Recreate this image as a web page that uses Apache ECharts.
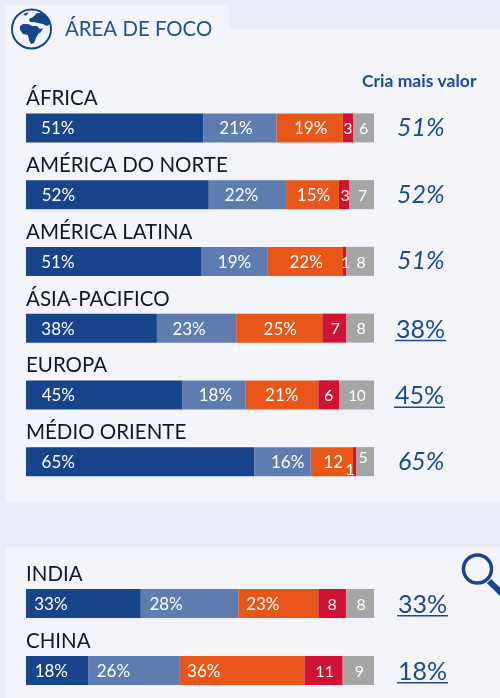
<!DOCTYPE html>
<html><head><meta charset="utf-8">
<style>html,body{margin:0;padding:0;background:#e9edf5}#c{width:500px;height:698px}</style>
<script src="https://cdn.jsdelivr.net/npm/echarts@6/dist/echarts.min.js"></script>
</head><body><div id="c"></div>
<script>
const regions = ['ÁFRICA','AMÉRICA DO NORTE','AMÉRICA LATINA','ÁSIA-PACIFICO','EUROPA','MÉDIO ORIENTE'];
const regionValues = [
  [51,21,19,3,6],
  [52,22,15,3,7],
  [51,19,22,1,8],
  [38,23,25,7,8],
  [45,18,21,6,10],
  [65,16,12,1,5]
];
const regionTop = [51,52,51,38,45,65];
const regionTopStyle = ['italic','italic','italic','link','link','italic'];
const countries = ['INDIA','CHINA'];
const countryValues = [
  [33,28,23,8,8],
  [18,26,36,11,9]
];
const countryTop = [33,18];
const countryTopStyle = ['link','link'];
const colors = ['#18448c','#5e7cb0','#e8561a','#cf1433','#a5a5a5'];

// label placement tweaks relative to the centre of each segment
const regionNudge = [
  [[-57,1],[-4,1],[1,1],[0,1],[0,1]],
  [[-59,1],[-6,1],[1,1],[1,1],[1,1]],
  [[-56,1],[0,1],[1,1],[1,1],[1,1]],
  [[-33.5,1],[-7.5,1],[1,1],[1,1],[1,1]],
  [[-46,1],[1.5,1],[0,1],[0,1],[0.5,1]],
  [[-82,1],[5,1],[1.5,1],[-4.5,8],[-2,-4]]
];
const countryNudge = [
  [[-32.5,1],[-23.5,1],[-15.5,1],[0,1],[1,1]],
  [[-6,1],[-20.5,1],[-38,1],[1,1],[1,1]]
];
const topOffset = {r:[23,23,23,22,21,24], c:[24,24]};
const NAVY = '#1d4a90';
const LABEL_FONT = 'Lato';

const measure = document.createElement('canvas').getContext('2d');

function buildSeries(rows, nudge, gridIndex, tops, topStyles, offs){
  const out = [];
  colors.forEach((color, s) => {
    out.push({
      type:'bar', stack:'g'+gridIndex, xAxisIndex:gridIndex, yAxisIndex:gridIndex,
      barWidth:29, silent:true, itemStyle:{color},
      data: rows.map((r, i) => {
        const sum = r.reduce((a,b)=>a+b,0);
        const raw = r[s];
        const text = (s<3 && !(raw===12 && s===2)) ? raw+'%' : ''+raw;
        return {
          value: raw/sum*100,
          label:{show:true, position:'inside', formatter:text, offset:nudge[i][s],
                 color:'#fff', fontFamily:LABEL_FONT, fontSize:s<3?17:(raw===10?15:16)}
        };
      })
    });
  });
  out.push({
    type:'custom', xAxisIndex:gridIndex, yAxisIndex:gridIndex, silent:true, clip:false, z:5,
    data: tops.map((v,i)=>[100,i,v]),
    renderItem:(params, api) => {
      const p = api.coord([api.value(0), api.value(1)]);
      const i = params.dataIndex;
      const text = api.value(2)+'%';
      const link = topStyles[i]==='link';
      const font = (link?'400 ':'italic 400 ')+'25px Lato';
      const x = p[0]+offs[i];
      const kids = [{type:'text', style:{x, y:p[1]+(link?1.5:0), text, font, fill:NAVY, textAlign:'left', textVerticalAlign:'middle'}}];
      if(link){
        measure.font = font;
        const w = measure.measureText(text).width;
        kids.push({type:'rect', shape:{x:x-1, y:p[1]+11.5, width:w+2, height:1.5}, style:{fill:NAVY}});
      }
      return {type:'group', children:kids};
    }
  });
  return out;
}
const axisY = (data, gridIndex) => ({
  type:'category', gridIndex, data, inverse:true, z:6,
  axisLine:{show:false}, axisTick:{show:false},
  axisLabel:{inside:true, margin:0, interval:0, align:'left', verticalAlign:'bottom',
    lineHeight:58, color:'#10182c', fontFamily:LABEL_FONT, fontSize:20.5}
});
const axisX = gridIndex => ({type:'value', gridIndex, min:0, max:100, show:false});

const chart = echarts.init(document.getElementById('c'), null, {renderer:'canvas'});
chart.setOption({
  animation:false,
  backgroundColor:'#e9edf5',
  grid:[
    {left:26, width:348, top:94.5, height:400.5, outerBoundsMode:'none'},
    {left:26, width:348, top:570, height:134, outerBoundsMode:'none'}
  ],
  xAxis:[axisX(0),axisX(1)],
  yAxis:[axisY(regions,0),axisY(countries,1)],
  series:[
    ...buildSeries(regionValues, regionNudge, 0, regionTop, regionTopStyle, topOffset.r),
    ...buildSeries(countryValues, countryNudge, 1, countryTop, countryTopStyle, topOffset.c)
  ],
  graphic:[
    {type:'rect', z:-10, shape:{x:5,y:5,width:224,height:30}, style:{fill:'#f2f4fa'}},
    {type:'rect', z:-10, shape:{x:5,y:29,width:495,height:473.5}, style:{fill:'#f2f4fa'}},
    {type:'rect', z:-10, shape:{x:5,y:547,width:495,height:151}, style:{fill:'#f2f4fa'}},
    {type:'circle', z:3, shape:{cx:31.5,cy:29,r:19.5}, style:{fill:'none',stroke:'#18448c',lineWidth:2}},
    {type:'polygon', z:3, shape:{points:[[20,26],[23,24],[28,24],[32,26],[37,26],[40,29],[43,28],[41,32],[38,34],[36,38],[34,43],[31,44],[29,40],[28,35],[23,34],[20,30]]}, style:{fill:'#18448c'}},
    {type:'polygon', z:3, shape:{points:[[29,19],[33,17],[37,13],[42,13],[47,17],[50,24],[47,26],[43,24],[38,23],[34,22],[30,22]]}, style:{fill:'#18448c'}},
    {type:'polygon', z:3, shape:{points:[[23,14],[29,12],[26,16]]}, style:{fill:'#18448c'}},
    {type:'text', z:3, style:{x:65,y:29,text:'ÁREA DE FOCO',fill:'#244f92',font:'20.4px Lato',textVerticalAlign:'middle'}},
    {type:'text', z:3, style:{x:362,y:81,text:'Cria mais valor',fill:'#1d4a90',font:'bold 17.5px Lato',textVerticalAlign:'middle'}},
    {type:'circle', z:3, shape:{cx:477.5,cy:569,r:14}, style:{fill:'none',stroke:'#18448c',lineWidth:3.5}},
    {type:'line', z:3, shape:{x1:489,y1:581,x2:502,y2:594}, style:{stroke:'#18448c',lineWidth:6}}
  ]
});
</script></body></html>
